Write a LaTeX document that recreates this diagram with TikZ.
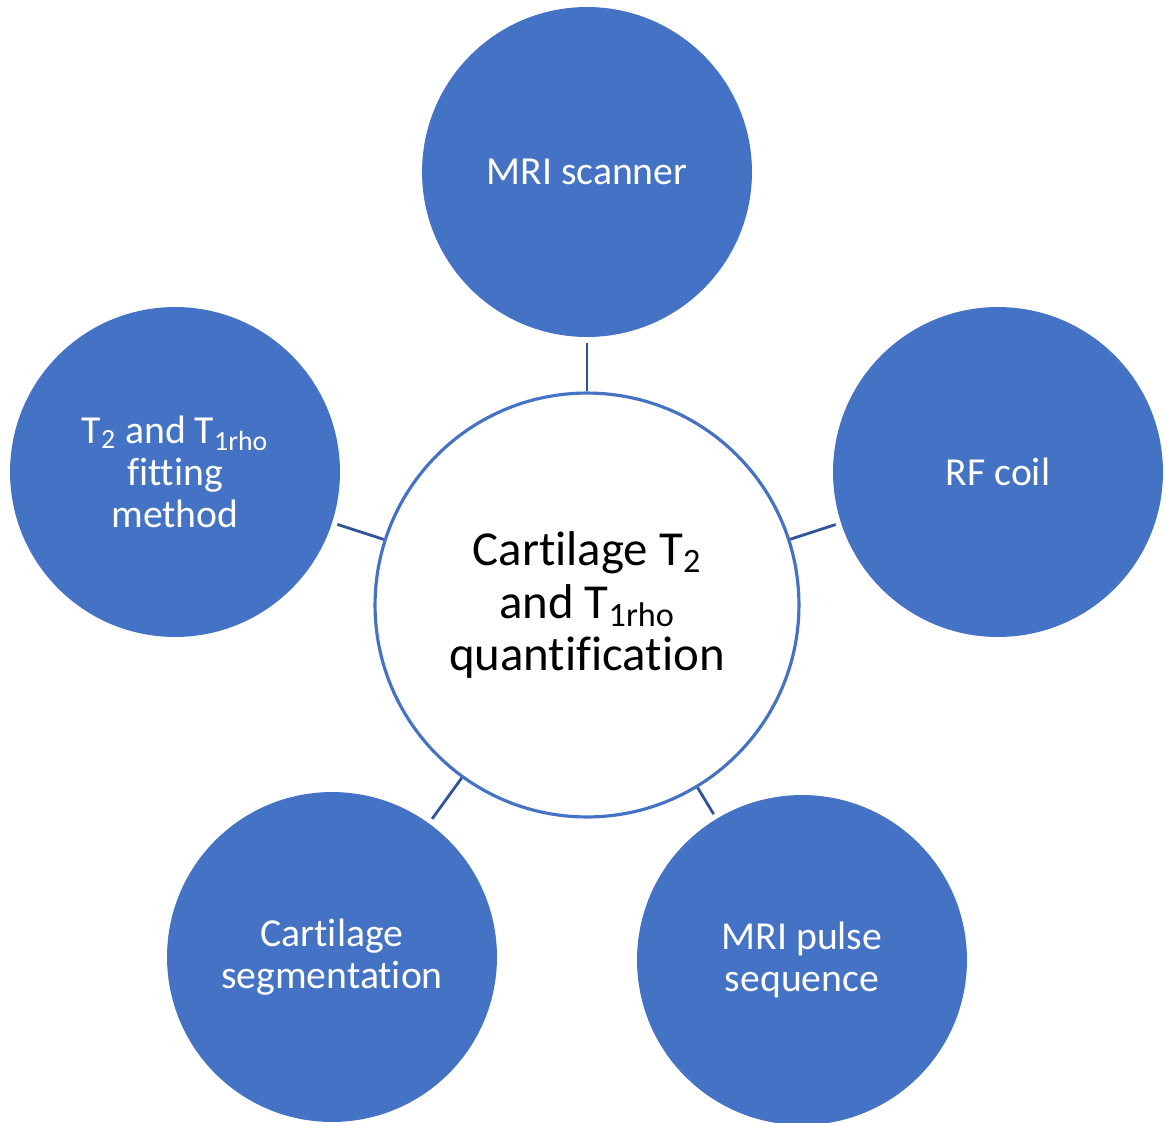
\documentclass[tikz,border=0pt]{standalone}
\usepackage{fontspec}
\setmainfont{Carlito}[Ligatures=NoCommon]
\usetikzlibrary{positioning}
\definecolor{officeblue}{HTML}{4472C4}
\definecolor{linkblue}{HTML}{2F5597}

\begin{document}
\begin{tikzpicture}[
    x=0.02cm,y=-0.02cm,
    hub/.style={circle,draw=officeblue,line width=1.8pt,fill=white,minimum size=8.48cm,inner sep=0pt,align=center,font=\fontsize{27.8}{30}\selectfont},
    topic/.style={circle,fill=officeblue,minimum size=6.6cm,inner sep=0pt,align=center,text=white,font=\fontsize{22.6}{24}\selectfont},
    link/.style={draw=linkblue,line width=1.6pt,shorten >=3pt}
  ]
    \useasboundingbox (0,0) rectangle (1167,1123);

    % Central topic
    \node[hub] (quant) at (587,605) {Cartilage T\textsubscript{2}\\and T\textsubscript{1rho}\\quantification};

    % Surrounding factors
    \node[topic] (scanner) at (587,172) {MRI scanner};
    \node[topic] (coil)    at (998,472) {RF coil};
    \node[topic] (fitting) at (175,472) {T\textsubscript{2} and T\textsubscript{1rho}\\fitting\\method};
    \node[topic] (segment) at (332,957) {Cartilage\\segmentation};
    \node[topic] (pulse)   at (802,960) {MRI pulse\\sequence};

    % Links
    \draw[link] (quant) -- (scanner);
    \draw[link] (quant) -- (coil);
    \draw[link] (quant) -- (fitting);
    \draw[link] (quant) -- (segment);
    \draw[link] (quant) -- (pulse);
\end{tikzpicture}
\end{document}
